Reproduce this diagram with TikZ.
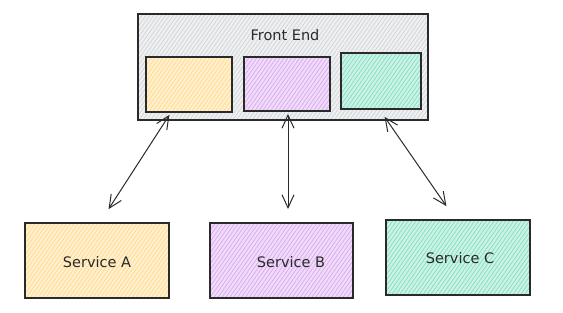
\documentclass[tikz,border=0pt]{standalone}
\usepackage{fontspec}
\setmainfont{DejaVu Sans}
\usetikzlibrary{patterns.meta,arrows.meta}
\definecolor{yel}{HTML}{FFD98A}
\definecolor{pur}{HTML}{D9A8F0}
\definecolor{grn}{HTML}{7FDFC0}
\definecolor{gry}{HTML}{D0D4D8}
\definecolor{ink}{HTML}{2A2A2A}
\tikzset{
  box/.style={draw=ink, line width=1.2pt},
  hatch/.style={pattern={Lines[angle=55,distance=3.2pt,line width=0.7pt]}, pattern color=#1},
  lbl/.style={font=\fontsize{14.5}{17}\selectfont, text=ink},
  link/.style={draw=ink, line width=1pt, {Straight Barb[length=13pt,width=12pt]}-{Straight Barb[length=13pt,width=12pt]}, shorten <=1pt, shorten >=1pt}
}
\begin{document}
\begin{tikzpicture}[x=1pt,y=-1pt]
\useasboundingbox (0,0) rectangle (563,313);
% Front end
\fill[gry!35] (138,14) rectangle (428,120);
\fill[hatch=gry] (138,14) rectangle (428,120);
\draw[box] (138,14) rectangle (428,120);
\node[lbl] (fe) at (285,35) {Front End};
% inner boxes
\fill[yel!40] (146,57) rectangle (232,112);
\fill[hatch=yel] (146,57) rectangle (232,112);
\draw[box] (146,57) rectangle (232,112);
\coordinate (fa) at (170,114);
\fill[pur!40] (244,57) rectangle (330,111);
\fill[hatch=pur] (244,57) rectangle (330,111);
\draw[box] (244,57) rectangle (330,111);
\coordinate (fb) at (288,113);
\fill[grn!40] (341,53) rectangle (421,109);
\fill[hatch=grn] (341,53) rectangle (421,109);
\draw[box] (341,53) rectangle (421,109);
\coordinate (fc) at (384,116);
% services
\fill[yel!40] (25,223) rectangle (169,298);
\fill[hatch=yel] (25,223) rectangle (169,298);
\draw[box] (25,223) rectangle (169,298);
\node[lbl] (sa) at (97,262) {Service A};
\fill[pur!40] (210,223) rectangle (353,298);
\fill[hatch=pur] (210,223) rectangle (353,298);
\draw[box] (210,223) rectangle (353,298);
\node[lbl] (sb) at (291,262) {Service B};
\fill[grn!40] (386,220) rectangle (530,295);
\fill[hatch=grn] (386,220) rectangle (530,295);
\draw[box] (386,220) rectangle (530,295);
\node[lbl] (sc) at (460,258) {Service C};
\coordinate (ta) at (108,210);
\coordinate (tb) at (288,210);
\coordinate (tc) at (447,207);
\draw[link] (fa) -- (ta);
\draw[link] (fb) -- (tb);
\draw[link] (fc) -- (tc);
\end{tikzpicture}
\end{document}
